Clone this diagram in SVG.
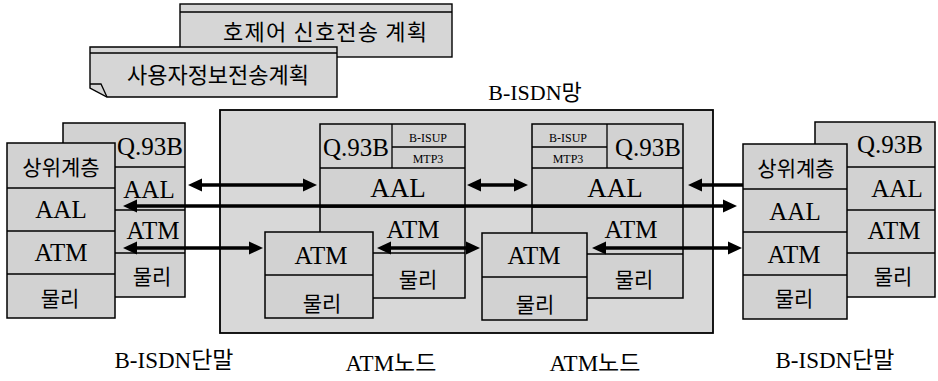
<svg xmlns="http://www.w3.org/2000/svg" width="938" height="381" viewBox="0 0 938 381">
<style>
.box{fill:#d2d2d2;stroke:#000;stroke-width:1.5}
.net{fill:#d8d8d8;stroke:#000;stroke-width:1.8}
.ban{fill:#d6d6d6;stroke:#000;stroke-width:1.4}
.ln{stroke:#000;stroke-width:1.3;fill:none}
.t{font-family:"Liberation Serif","Times New Roman","DejaVu Serif","Noto Sans CJK KR",serif;text-anchor:middle;fill:#000}
.k{font-family:"Noto Sans CJK KR","Liberation Serif",sans-serif;text-anchor:middle;fill:#000}
.L{font-size:25px}
.K{font-size:21px}
.S{font-size:12px}
.arr{stroke:#000;stroke-width:3.6;fill:none}
</style>
<defs>
<marker id="ah" markerUnits="userSpaceOnUse" markerWidth="15" markerHeight="14" viewBox="0 -7 15 14" refX="0" refY="0" orient="auto-start-reverse">
<path d="M0,-6.5 L14,0 L0,6.5 Z" fill="#000"/>
</marker>
</defs>

<g id="plan-control">
<rect class="ban" x="180" y="4" width="272" height="53"/>
<line class="ln" x1="180" y1="12" x2="452" y2="12"/>
<text class="k" x="325" y="40" font-size="22" textLength="204" lengthAdjust="spacing">호제어 신호전송 계획</text>
</g>

<g id="plan-user">
<path class="ban" d="M90,47 H337 V97 H107 L90,88 Z"/>
<line class="ln" x1="90" y1="53" x2="337" y2="53"/>
<path class="ln" d="M90,84 H101 L107,97"/>
<text class="k" x="218" y="83" font-size="22">사용자정보전송계획</text>
</g>

<g id="network">
<rect class="net" x="220" y="110" width="493" height="223"/>
<text class="t" x="535" y="100" font-size="22">B-ISDN망</text>
</g>

<g id="terminal-left">
<rect class="box" x="63" y="123" width="122" height="174"/>
<line class="ln" x1="63" y1="167" x2="185" y2="167"/>
<line class="ln" x1="63" y1="210" x2="185" y2="210"/>
<line class="ln" x1="63" y1="253" x2="185" y2="253"/>
<text class="t L" x="150" y="155">Q.93B</text>
<text class="t L" x="149" y="198">AAL</text>
<text class="t L" x="153" y="239">ATM</text>
<text class="k K" x="152" y="284">물리</text>
<rect class="box" x="7" y="143" width="108" height="175"/>
<line class="ln" x1="7" y1="188" x2="115" y2="188"/>
<line class="ln" x1="7" y1="231" x2="115" y2="231"/>
<line class="ln" x1="7" y1="274" x2="115" y2="274"/>
<text class="k K" x="61" y="175">상위계층</text>
<text class="t L" x="61" y="218">AAL</text>
<text class="t L" x="61" y="261">ATM</text>
<text class="k K" x="60" y="306">물리</text>
<text class="t" x="174" y="368" font-size="23">B-ISDN단말</text>
</g>

<g id="atm-node-1">
<rect class="box" x="320" y="124" width="145" height="174"/>
<line class="ln" x1="320" y1="168" x2="465" y2="168"/>
<line class="ln" x1="392" y1="124" x2="392" y2="168"/>
<line class="ln" x1="392" y1="147" x2="465" y2="147"/>
<line class="ln" x1="320" y1="207" x2="465" y2="207"/>
<line class="ln" x1="373" y1="253" x2="465" y2="253"/>
<text class="t L" x="356" y="156">Q.93B</text>
<text class="t S" x="428" y="142">B-ISUP</text>
<text class="t S" x="428" y="163">MTP3</text>
<text class="t" x="398" y="197" font-size="27">AAL</text>
<text class="t L" x="413" y="238">ATM</text>
<text class="k K" x="418" y="287">물리</text>
<rect class="box" x="265" y="232" width="108" height="86"/>
<line class="ln" x1="265" y1="275" x2="373" y2="275"/>
<text class="t L" x="321" y="264">ATM</text>
<text class="k K" x="322" y="311">물리</text>
<text class="t" x="391" y="371" font-size="23">ATM노드</text>
</g>

<g id="atm-node-2">
<rect class="box" x="532" y="124" width="151" height="174"/>
<line class="ln" x1="532" y1="168" x2="683" y2="168"/>
<line class="ln" x1="607" y1="124" x2="607" y2="168"/>
<line class="ln" x1="532" y1="147" x2="607" y2="147"/>
<line class="ln" x1="532" y1="207" x2="683" y2="207"/>
<line class="ln" x1="587" y1="254" x2="683" y2="254"/>
<text class="t S" x="568" y="142">B-ISUP</text>
<text class="t S" x="568" y="163">MTP3</text>
<text class="t L" x="648" y="156">Q.93B</text>
<text class="t" x="615" y="197" font-size="27">AAL</text>
<text class="t L" x="631" y="238">ATM</text>
<text class="k K" x="634" y="287">물리</text>
<rect class="box" x="482" y="233" width="105" height="87"/>
<line class="ln" x1="482" y1="277" x2="587" y2="277"/>
<text class="t L" x="534" y="264">ATM</text>
<text class="k K" x="535" y="312">물리</text>
<text class="t" x="595" y="371" font-size="23">ATM노드</text>
</g>

<g id="terminal-right">
<rect class="box" x="815" y="122" width="120" height="175"/>
<line class="ln" x1="815" y1="167" x2="935" y2="167"/>
<line class="ln" x1="815" y1="210" x2="935" y2="210"/>
<line class="ln" x1="815" y1="253" x2="935" y2="253"/>
<text class="t L" x="890" y="153">Q.93B</text>
<text class="t L" x="897" y="197">AAL</text>
<text class="t L" x="894" y="239">ATM</text>
<text class="k K" x="893" y="284">물리</text>
<rect class="box" x="743" y="144" width="104" height="175"/>
<line class="ln" x1="743" y1="189" x2="847" y2="189"/>
<line class="ln" x1="743" y1="232" x2="847" y2="232"/>
<line class="ln" x1="743" y1="275" x2="847" y2="275"/>
<text class="k K" x="796" y="176">상위계층</text>
<text class="t L" x="795" y="220">AAL</text>
<text class="t L" x="794" y="263">ATM</text>
<text class="k K" x="794" y="306">물리</text>
<text class="t" x="835" y="368" font-size="23">B-ISDN단말</text>
</g>

<g id="connectors">
<line class="arr" x1="202" y1="185" x2="303" y2="185" marker-start="url(#ah)" marker-end="url(#ah)"/>
<line class="arr" x1="481" y1="185" x2="514" y2="185" marker-start="url(#ah)" marker-end="url(#ah)"/>
<line class="arr" x1="743" y1="185" x2="702" y2="185" marker-end="url(#ah)"/>
<line class="arr" x1="137" y1="206" x2="723" y2="206" marker-start="url(#ah)" marker-end="url(#ah)"/>
<line class="arr" x1="137" y1="248" x2="249" y2="248" marker-start="url(#ah)" marker-end="url(#ah)"/>
<line class="arr" x1="391" y1="248" x2="466" y2="248" marker-start="url(#ah)" marker-end="url(#ah)"/>
<line class="arr" x1="606" y1="248" x2="728" y2="248" marker-start="url(#ah)" marker-end="url(#ah)"/>
</g>
</svg>
